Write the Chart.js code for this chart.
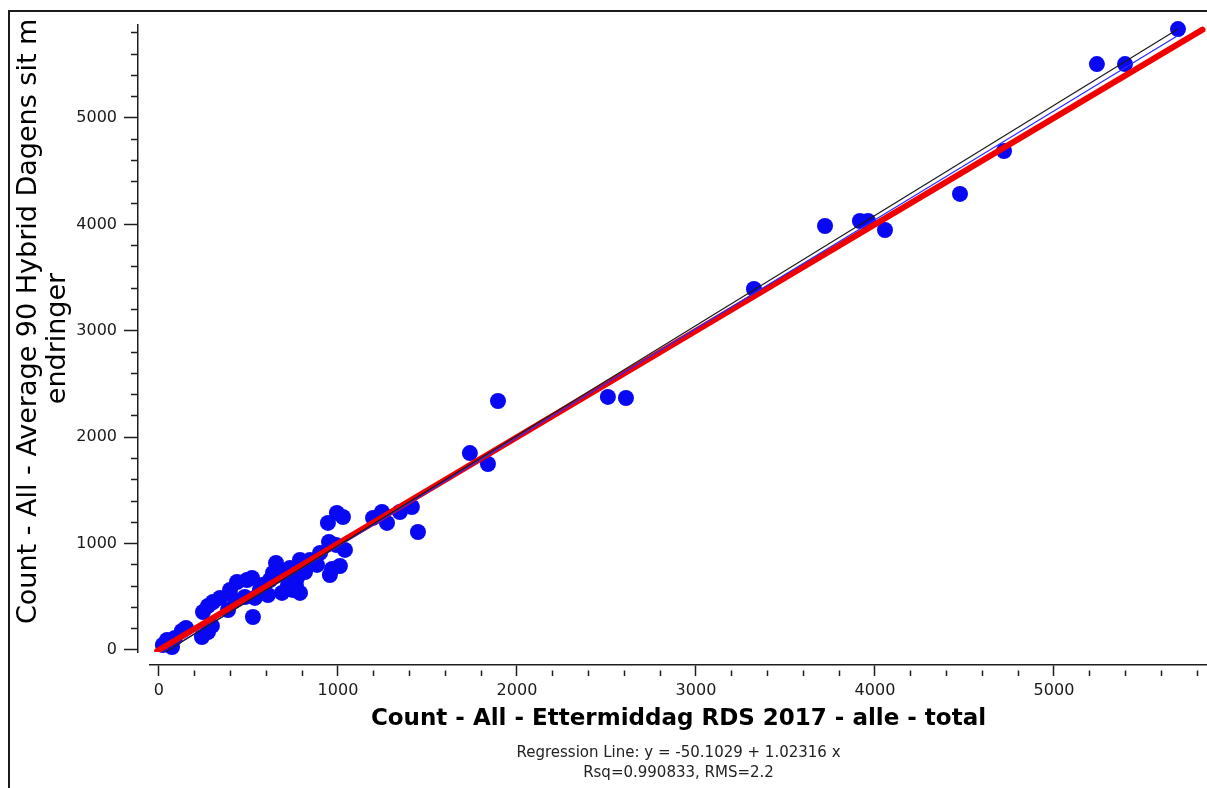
<!DOCTYPE html>
<html>
<head>
<meta charset="utf-8">
<title>Count - All - Ettermiddag RDS 2017</title>
<script src="https://cdn.jsdelivr.net/npm/chart.js@4.4.1/dist/chart.umd.min.js"></script>
<style>
  html, body { margin: 0; padding: 0; background: #fff; overflow: hidden; }
  #wrap { position: relative; width: 1207px; height: 788px; }
  #chart { display: block; width: 1207px; height: 788px; }
  #frame {
    position: absolute; left: 8px; top: 10px; right: -10px; bottom: -10px;
    border-top: 2px solid #1b1b1b; border-left: 2px solid #1b1b1b;
    pointer-events: none;
  }
</style>
</head>
<body>
<div id="wrap">
  <canvas id="chart" width="1207" height="788"></canvas>
  <div id="frame"></div>
</div>
<script>
'use strict'

// x: Ettermiddag RDS 2017 counts, y: Average 90 Hybrid counts (one entry per counting point)
let countEttermiddag = [
    5693, 5397, 5240, 4721, 4475, 4056, 3961, 3916, 3721, 3324,
    2609, 2508, 1894, 1838, 1737, 1413, 1447, 1346, 1246, 1196,
    1274, 994, 1028, 944, 950, 900, 1039, 1011, 967, 955,
    883, 816, 788, 771, 788, 749, 721, 687, 654, 637,
    620, 575, 564, 536, 525, 492, 480, 436, 397, 341,
    302, 274, 246, 296, 274, 240, 151, 128, 89, 45,
    22, 73, 520, 693, 732, 844, 765, 609, 386, 425,
    989
];
let countHybrid = [
    5836, 5507, 5507, 4690, 4286, 3947, 4032, 4032, 3985, 3393,
    2368, 2378, 2340, 1748, 1851, 1344, 1109, 1297, 1297, 1241,
    1194, 1288, 1250, 1194, 1015, 912, 940, 789, 761, 705,
    799, 733, 846, 677, 536, 564, 611, 536, 818, 724,
    658, 611, 564, 489, 310, 658, 498, 639, 564, 489,
    451, 414, 357, 226, 169, 122, 207, 179, 113, 94,
    47, 28, 677, 733, 771, 846, 611, 517, 376, 470,
    987
];

// regression results printed under the chart
let regIntercept = -50.1029;
let regSlope = 1.02316;
let regRsq = 0.990833;
let regRms = 2.2;

// y = x diagonal and the thin black fit line
let diagonalX = [-10, 5830];
let diagonalY = [-10, 5830];
let fitLineX = [20, 5693];
let fitLineY = [-35, 5836];

// axis ticks: every 200, labels every 1000
let majorTicks = [0, 1000, 2000, 3000, 4000, 5000];
let tickValues = [];
for (let v = 0; v <= 5800; v += 200) {
    tickValues.push(v);
}

let fontFamily = "'DejaVu Sans', Verdana, sans-serif";
Chart.defaults.font.family = fontFamily;

// linear scale whose axis line, ticks and labels are drawn a few pixels
// away from the plot area, so the two axes don't touch at the corner
class ShiftedLinearScale extends Chart.LinearScale {
    draw(chartArea) {
        let ctx = this.ctx;
        ctx.save();
        ctx.translate(this.options.shiftX || 0, this.options.shiftY || 0);
        super.draw(chartArea);
        ctx.restore();
    }
}
ShiftedLinearScale.id = 'shiftedLinear';
ShiftedLinearScale.defaults = Chart.LinearScale.defaults;
Chart.register(ShiftedLinearScale);

function points(xs, ys) {
    let out = [];
    for (let i = 0; i < xs.length; i++) {
        out.push({ x: xs[i], y: ys[i] });
    }
    return out;
}

let minX = Math.min(...countEttermiddag);
let maxX = Math.max(...countEttermiddag);
let regressionLine = [
    { x: minX, y: regIntercept + regSlope * minX },
    { x: maxX, y: regIntercept + regSlope * maxX }
];

// minor ticks: only the part next to the axis line is drawn
// (tick lines run from the outer end towards the axis)
function minorDash(full, len) {
    return function (ctx) {
        if (ctx.tick && majorTicks.includes(ctx.tick.value)) {
            return [];
        }
        return [0, full - len, len, 100];
    };
}

function setTicks(scale) {
    scale.ticks = tickValues.map(v => ({ value: v }));
}

function tickLabel(value) {
    return majorTicks.includes(value) ? String(value) : '';
}

// fixed axis sizes, and no extra room reserved for edge labels
function fixSize(scale, size) {
    if (scale.isHorizontal()) {
        scale.height = size;
    } else {
        scale.width = size;
    }
    scale.paddingLeft = 0;
    scale.paddingRight = 0;
    scale.paddingTop = 0;
    scale.paddingBottom = 0;
}

const data = {
    datasets: [
        {
            label: 'Counts',
            data: points(countEttermiddag, countHybrid),
            backgroundColor: '#0808f2',
            borderWidth: 0,
            pointRadius: 8,
            pointHoverRadius: 8,
            clip: false,
            order: 4
        },
        {
            label: 'y = x',
            data: points(diagonalX, diagonalY),
            showLine: true,
            borderColor: '#f20000',
            borderWidth: 6,
            borderCapStyle: 'round',
            pointRadius: 0,
            order: 3
        },
        {
            label: 'Regression',
            data: regressionLine,
            showLine: true,
            borderColor: '#2a2aff',
            borderWidth: 1.2,
            pointRadius: 0,
            order: 2
        },
        {
            label: 'Fit line',
            data: points(fitLineX, fitLineY),
            showLine: true,
            borderColor: '#1a1a1a',
            borderWidth: 1.2,
            pointRadius: 0,
            order: 1
        }
    ]
};

const config = {
    type: 'scatter',
    data: data,
    options: {
        responsive: false,
        animation: false,
        events: [],
        layout: {
            autoPadding: false,
            padding: { top: 25, left: 0, right: 0, bottom: 0 }
        },
        scales: {
            x: {
                type: 'shiftedLinear',
                shiftY: 13,
                min: -50,
                max: 5855,
                afterFit: s => fixSize(s, 86),
                afterBuildTicks: setTicks,
                border: { color: '#1e1e1e', width: 1.5 },
                grid: {
                    drawOnChartArea: false,
                    tickLength: 11,
                    tickWidth: 1.5,
                    tickColor: '#1e1e1e',
                    tickBorderDash: minorDash(11, 6)
                },
                ticks: {
                    autoSkip: false,
                    maxRotation: 0,
                    padding: 5,
                    color: '#1a1a1a',
                    font: { size: 16 },
                    callback: tickLabel
                },
                title: {
                    display: true,
                    text: 'Count - All - Ettermiddag RDS 2017 - alle - total',
                    color: '#000',
                    font: { size: 23, weight: 'bold' },
                    padding: { top: 0, bottom: 18 }
                }
            },
            y: {
                type: 'shiftedLinear',
                shiftX: -12,
                min: -19,
                max: 5874,
                afterFit: s => fixSize(s, 150),
                afterBuildTicks: setTicks,
                border: { color: '#1e1e1e', width: 1.5 },
                grid: {
                    drawOnChartArea: false,
                    tickLength: 14,
                    tickWidth: 1.5,
                    tickColor: '#1e1e1e',
                    tickBorderDash: minorDash(14, 7)
                },
                ticks: {
                    autoSkip: false,
                    padding: 7,
                    color: '#1a1a1a',
                    font: { size: 16 },
                    callback: tickLabel
                },
                title: {
                    display: true,
                    text: ['    Count - All - Average 90 Hybrid Dagens sit m', 'endringer'],
                    color: '#000',
                    font: { size: 27, lineHeight: 1.05 },
                    padding: { top: 27, bottom: 0 }
                }
            }
        },
        plugins: {
            legend: { display: false },
            tooltip: { enabled: false },
            title: {
                display: true,
                position: 'bottom',
                fullSize: false,
                text: [
                    'Regression Line: y = ' + regIntercept + ' + ' + regSlope + ' x',
                    'Rsq=' + regRsq + ', RMS=' + regRms
                ],
                color: '#222',
                font: { size: 15, weight: 'normal', lineHeight: 20 / 15 },
                padding: { top: 5, bottom: 5 }
            }
        }
    }
};

let canvas = document.getElementById('chart');
const chart = new Chart(canvas, config);
</script>
</body>
</html>
